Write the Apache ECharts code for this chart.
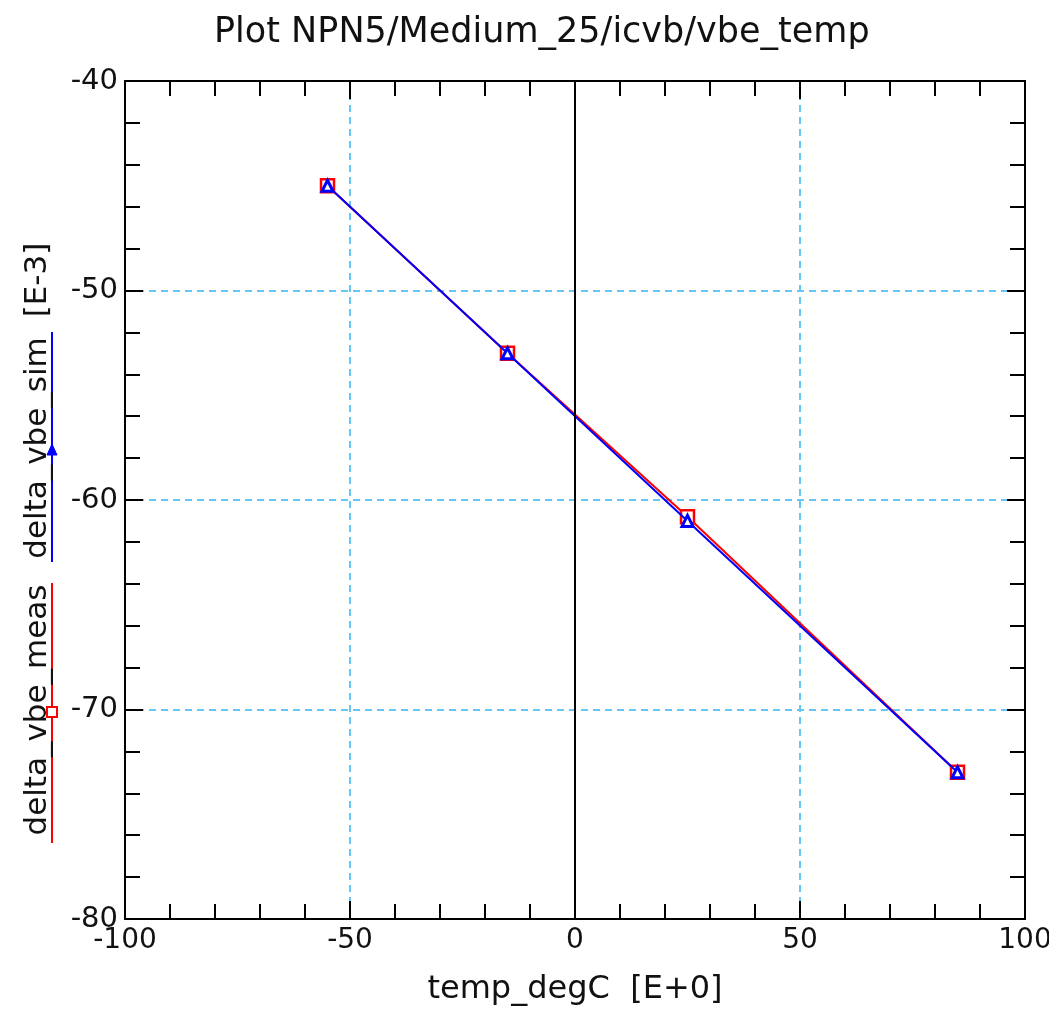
<!DOCTYPE html>
<html>
<head>
<meta charset="utf-8">
<script src="https://cdn.jsdelivr.net/npm/echarts@6/dist/echarts.min.js"></script>
<style>
html,body{margin:0;padding:0;background:#fff;}
#c{width:1049px;height:1010px;}
</style>
</head>
<body>
<div id="c"></div>
<script>
const titleText = 'Plot NPN5/Medium_25/icvb/vbe_temp';
const xName = 'temp_degC  [E+0]';
const measName = 'delta_vbe_meas';
const simName = 'delta_vbe_sim';
const yUnit = '[E-3]';
const temps = [-55, -15, 25, 85];
const vbeMeas = [-45, -53, -60.8, -73];
const vbeSim = [-45, -53, -61, -73];
const xTicks = [-100, -50, 0, 50, 100];
const yTicks = [-80, -70, -60, -50, -40];

const FONT = 'DejaVu Sans';
const gridColor = '#66c6f4';

const chart = echarts.init(document.getElementById('c'));

function axisBase(showLabel, pos) {
  return {
    axisLine: { show: true, onZero: false, lineStyle: { color: '#000', width: 2 } },
    axisTick: { show: true, inside: true, length: 18, lineStyle: { color: '#000', width: 2 } },
    minorTick: { show: true, splitNumber: 5, length: 15, lineStyle: { color: '#000', width: 2 } },
    axisLabel: { show: showLabel, color: '#111', fontSize: 28, fontFamily: FONT },
    position: pos
  };
}

const option = {
  animation: false,
  backgroundColor: '#fff',
  title: {
    text: titleText, left: 209, top: 10,
    textStyle: { fontSize: 35, fontWeight: 'normal', color: '#111', fontFamily: FONT }
  },
  grid: { left: 125, right: 24, top: 81, bottom: 91, outerBoundsMode: 'none', containLabel: false },
  xAxis: [
    Object.assign(axisBase(true, 'bottom'), {
      type: 'value', min: xTicks[0], max: xTicks[xTicks.length - 1], interval: 50,
      name: xName, nameLocation: 'middle', nameGap: 55,
      nameTextStyle: { fontSize: 32, color: '#111', fontFamily: FONT },
      axisLabel: { show: true, color: '#111', fontSize: 28, fontFamily: FONT, margin: 8 },
      splitLine: { show: true, lineStyle: { color: gridColor, type: [7, 5], width: 2 } }
    }),
    Object.assign(axisBase(false, 'top'), {
      type: 'value', min: xTicks[0], max: xTicks[xTicks.length - 1], interval: 50,
      splitLine: { show: false }
    })
  ],
  yAxis: [
    Object.assign(axisBase(true, 'left'), {
      type: 'value', min: yTicks[0], max: yTicks[yTicks.length - 1], interval: 10,
      axisLabel: { show: true, color: '#111', fontSize: 29, fontFamily: FONT, margin: 7 },
      splitLine: { show: true, lineStyle: { color: gridColor, type: [7, 5], width: 2 } }
    }),
    Object.assign(axisBase(false, 'right'), {
      type: 'value', min: yTicks[0], max: yTicks[yTicks.length - 1], interval: 10,
      splitLine: { show: false }
    })
  ],
  series: [
    {
      name: measName, type: 'line', xAxisIndex: 0, yAxisIndex: 0,
      data: temps.map((t, i) => [t, vbeMeas[i]]),
      symbol: 'rect', symbolSize: 13, showAllSymbol: true,
      lineStyle: { color: '#ff0000', width: 2 },
      itemStyle: { color: '#fff', borderColor: '#ff0000', borderWidth: 2.5 },
      markLine: {
        silent: true, symbol: 'none', label: { show: false },
        lineStyle: { color: '#000', type: 'solid', width: 2 },
        data: [{ xAxis: 0 }]
      },
      z: 3
    },
    {
      name: simName, type: 'line', xAxisIndex: 0, yAxisIndex: 0,
      data: temps.map((t, i) => [t, vbeSim[i]]),
      symbol: 'triangle', symbolSize: 11, showAllSymbol: true,
      lineStyle: { color: '#0000ff', width: 2 },
      itemStyle: { color: '#fff', borderColor: '#0000ff', borderWidth: 3 },
      z: 4
    }
  ],
  graphic: [
    { type: 'line', shape: { x1: 52, y1: 583, x2: 52, y2: 843 }, style: { stroke: '#ff0000', lineWidth: 2 } },
    { type: 'rect', shape: { x: 47, y: 707, width: 10, height: 10 }, style: { fill: '#fff', stroke: '#ff0000', lineWidth: 2 } },
    { type: 'line', shape: { x1: 52, y1: 332, x2: 52, y2: 562 }, style: { stroke: '#0000ff', lineWidth: 2 } },
    { type: 'polygon', shape: { points: [[52, 444], [57, 455], [47, 455]] }, style: { fill: '#0000ff', stroke: '#0000ff', lineWidth: 1 } },
    { type: 'text', x: 38, y: 710, rotation: Math.PI / 2, style: { text: measName, font: '31px "DejaVu Sans"', fill: '#111', align: 'center', verticalAlign: 'middle' } },
    { type: 'text', x: 38, y: 448, rotation: Math.PI / 2, style: { text: simName, font: '31px "DejaVu Sans"', fill: '#111', align: 'center', verticalAlign: 'middle' } },
    { type: 'text', x: 38, y: 280, rotation: Math.PI / 2, style: { text: yUnit, font: '31px "DejaVu Sans"', fill: '#111', align: 'center', verticalAlign: 'middle' } }
  ]
};
chart.setOption(option);
</script>
</body>
</html>
